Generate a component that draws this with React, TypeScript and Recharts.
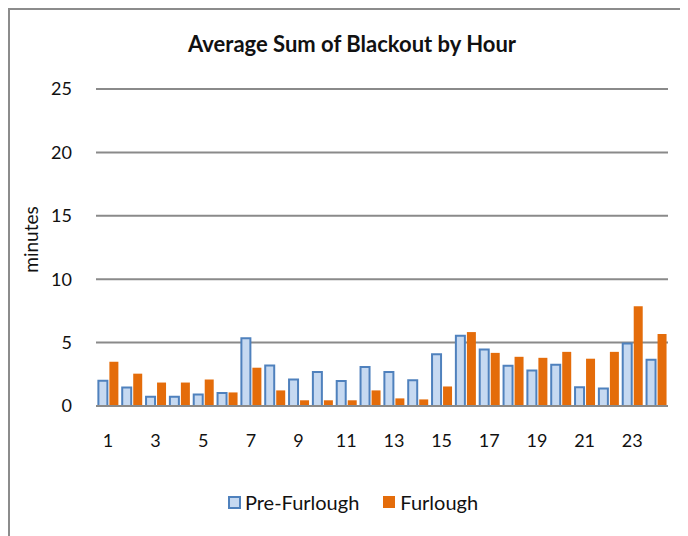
import { BarChart, Bar, XAxis, YAxis, CartesianGrid, Label } from 'recharts';

// hour of day
const hours = ['1', '2', '3', '4', '5', '6', '7', '8', '9', '10', '11', '12', '13', '14', '15', '16', '17', '18', '19', '20', '21', '22', '23', '24'];

// average minutes of blackout
const preFurlough = [2.0, 1.46, 0.73, 0.73, 0.91, 1.02, 5.34, 3.2, 2.09, 2.69, 1.98, 3.08, 2.69, 2.03, 4.09, 5.55, 4.45, 3.18, 2.79, 3.26, 1.48, 1.38, 4.92, 3.65];
const furlough = [3.49, 2.55, 1.85, 1.85, 2.09, 1.07, 3.02, 1.23, 0.45, 0.45, 0.45, 1.23, 0.6, 0.52, 1.54, 5.83, 4.19, 3.88, 3.8, 4.27, 3.73, 4.27, 7.87, 5.68];

const yTicks = [0, 5, 10, 15, 20, 25];

const FONT = 'Lato, "Open Sans", sans-serif';
const PRE_FILL = '#c6d9f1';
const PRE_STROKE = '#4f81bd';
const FURLOUGH_FILL = '#e46c0a';
const GRID = '#8a8a8a';

const data = hours.map((hour, i) => ({
  hour,
  pre: preFurlough[i],
  furlough: furlough[i],
}));

function LegendBox() {
  return (
    <div style={{ position: 'absolute', left: 4, top: 480, width: 678, display: 'flex', justifyContent: 'center', alignItems: 'center', fontFamily: FONT, fontSize: 20, color: '#111' }}>
      <span style={{ width: 9, height: 9, background: PRE_FILL, border: `2px solid ${PRE_STROKE}`, marginRight: 4 }} />
      <span style={{ marginRight: 24 }}>Pre-Furlough</span>
      <span style={{ width: 12, height: 12, background: FURLOUGH_FILL, marginRight: 5 }} />
      <span>Furlough</span>
    </div>
  );
}

export default function App() {
  return (
    <div style={{ position: 'relative', width: 680, height: 528, borderLeft: '2px solid #8c8c8c', borderTop: '2px solid #8c8c8c', background: '#fff' }}>
      <BarChart
        width={678}
        height={526}
        data={data}
        margin={{ top: 79, right: 20, left: 36, bottom: 80 }}
        barCategoryGap="10%"
        barGap={2}
      >
        <text x={342} y={36} textAnchor="middle" dominantBaseline="middle" fontFamily={FONT} fontWeight="bold" fontSize={22} fill="#111">
          Average Sum of Blackout by Hour
        </text>
        <CartesianGrid vertical={false} stroke={GRID} strokeWidth={2} />
        <XAxis
          dataKey="hour"
          interval={1}
          tickLine={false}
          axisLine={{ stroke: GRID, strokeWidth: 2 }}
          tickMargin={22}
          height={50}
          tick={{ fill: '#111', fontSize: 18, fontFamily: FONT }}
        />
        <YAxis
          domain={[0, 25]}
          ticks={yTicks}
          width={50}
          axisLine={false}
          tickLine={false}
          tickMargin={18}
          tick={{ fill: '#111', fontSize: 18, fontFamily: FONT }}
        >
          <Label
            content={(props: any) => {
              const vb = props.viewBox;
              const cx = 23;
              const cy = vb.y + vb.height / 2 - 8;
              return (
                <text x={cx} y={cy} transform={`rotate(-90, ${cx}, ${cy})`} textAnchor="middle" dominantBaseline="middle" fontFamily={FONT} fontSize={19} fill="#111">
                  minutes
                </text>
              );
            }}
          />
        </YAxis>
        <Bar dataKey="pre" name="Pre-Furlough" fill={PRE_FILL} stroke={PRE_STROKE} strokeWidth={2} isAnimationActive={false} />
        <Bar dataKey="furlough" name="Furlough" fill={FURLOUGH_FILL} isAnimationActive={false} />
      </BarChart>
      <LegendBox />
    </div>
  );
}
